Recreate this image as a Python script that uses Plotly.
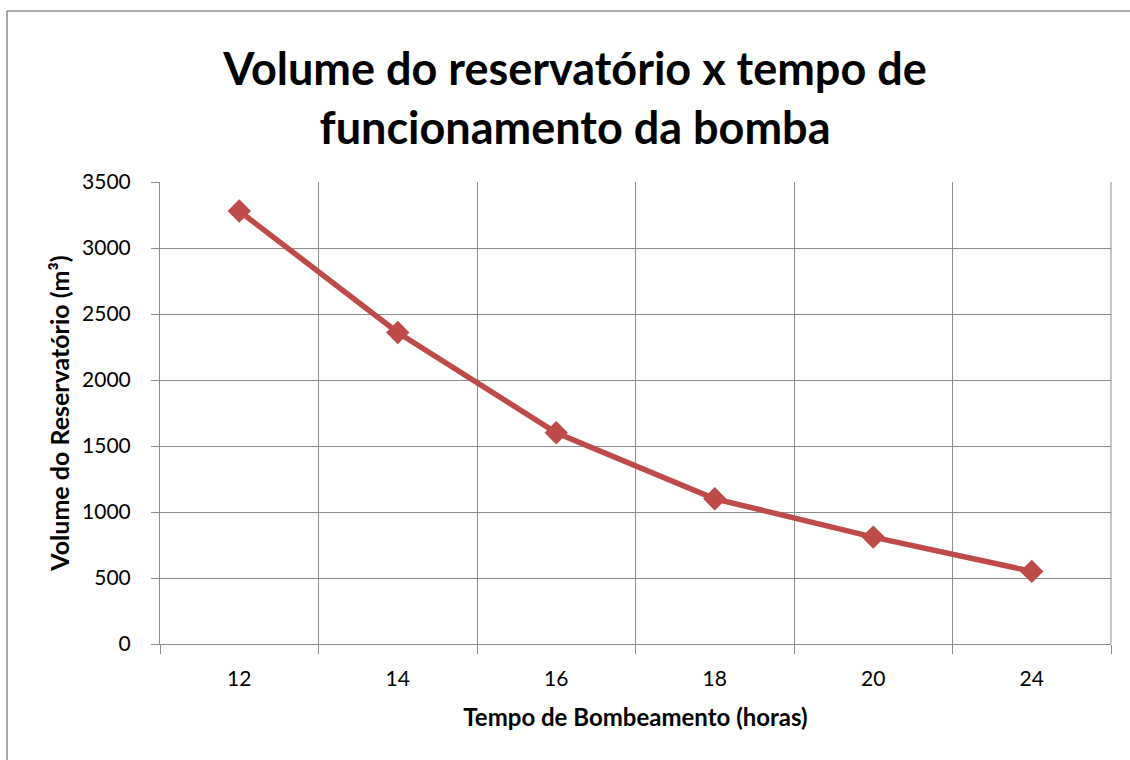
import plotly.graph_objects as go

categories = ["12", "14", "16", "18", "20", "24"]
volumes = [3280, 2360, 1600, 1100, 810, 550]
y_ticks = [0, 500, 1000, 1500, 2000, 2500, 3000, 3500]

color = "#BE4B48"
grid = "#8c8c8c"
font = "Lato, 'Open Sans', sans-serif"

L, R, T, B = 160, 19, 182, 116
W, H = 1130, 760
pw, ph = W - L - R, H - T - B

fig = go.Figure()
fig.add_trace(go.Scatter(
    x=categories, y=volumes, mode="lines+markers",
    line=dict(color=color, width=5.5),
    marker=dict(symbol="diamond", size=18, color=color),
    showlegend=False,
))

fig.update_layout(
    width=W, height=H,
    margin=dict(l=L, r=R, t=T, b=B),
    paper_bgcolor="white", plot_bgcolor="white",
    font=dict(family=font, color="black"),
    title=dict(
        text="<b>Volume do reservatório x tempo de<br>funcionamento da bomba</b>",
        x=575 / W, xanchor="center", xref="container",
        y=1 - 85 / H, yanchor="top", yref="container",
        font=dict(size=45, family=font, color="black"),
    ),
    xaxis=dict(
        type="category", tickson="boundaries",
        range=[-0.5, len(categories) - 0.5],
        showgrid=True, gridcolor=grid, gridwidth=1,
        ticks="outside", ticklen=9, tickcolor=grid,
        showline=True, linecolor=grid,
        tickfont=dict(size=21),
        ticklabelstandoff=16,
        title=dict(text="<b>Tempo de Bombeamento (horas)</b>", font=dict(size=24), standoff=19),
    ),
    yaxis=dict(
        range=[0, 3500], tickvals=y_ticks,
        showgrid=True, gridcolor=grid, gridwidth=1,
        ticks="outside", ticklen=8, tickcolor=grid,
        showline=True, linecolor=grid,
        tickfont=dict(size=21),
        ticklabelstandoff=16,
        title=dict(text="<b>Volume do Reservatório (m³)</b>", font=dict(size=25), standoff=5),
        zeroline=False,
    ),
    shapes=[
        dict(type="line", xref="paper", yref="paper",
             x0=(7 - L) / pw, x1=1.05, y0=(H - B - 11) / ph, y1=(H - B - 11) / ph,
             line=dict(color=grid, width=1.5)),
        dict(type="line", xref="paper", yref="paper",
             x0=(7 - L) / pw, x1=(7 - L) / pw, y0=(H - B - 11) / ph, y1=-0.3,
             line=dict(color=grid, width=1.5)),
        dict(type="line", xref="paper", yref="paper",
             x0=1.0, x1=1.0, y0=0, y1=1,
             line=dict(color=grid, width=1)),
    ],
)

fig.write_html("out.html", config={"displayModeBar": False},
               post_script="document.body.style.margin='0';")
